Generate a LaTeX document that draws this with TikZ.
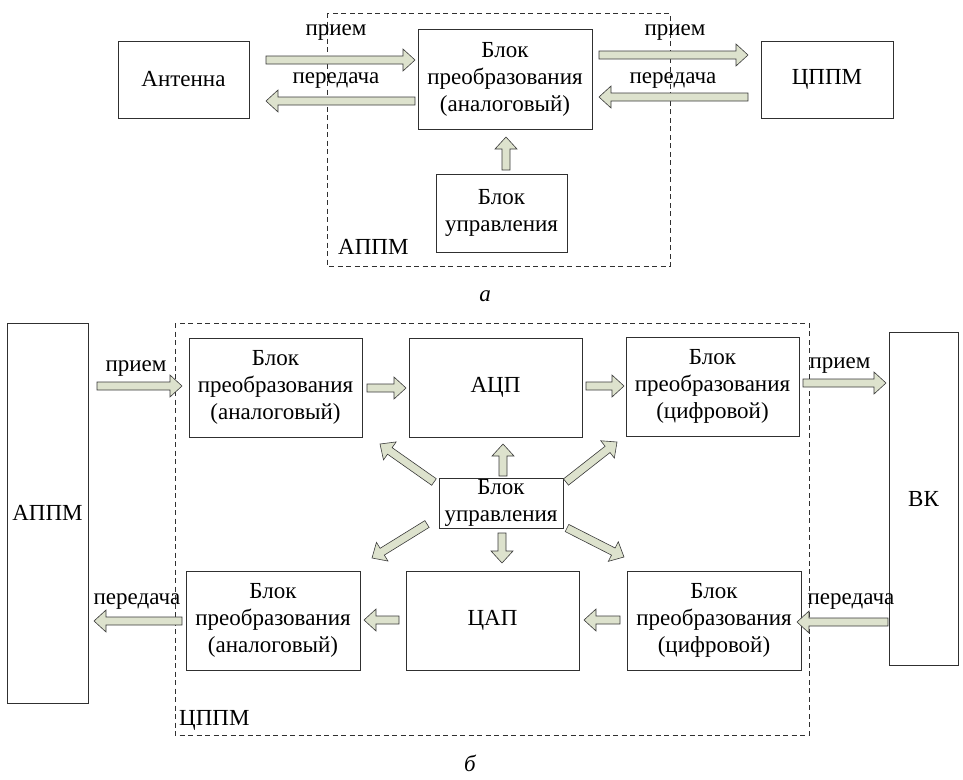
\documentclass[tikz,border=0pt]{standalone}
\usepackage{fontspec}
\setmainfont{Liberation Serif}
\usetikzlibrary{calc}
\definecolor{arrowfill}{HTML}{DDE2CD}
\definecolor{arrowline}{HTML}{3A3A3A}
\definecolor{boxline}{HTML}{303030}
\begin{document}
\begin{tikzpicture}[x=1pt,y=-1pt,
  txt/.style={font=\fontsize{23}{27}\selectfont},
  box/.style={txt, draw=boxline, line width=0.7pt, align=center, inner sep=0pt},
  lbl/.style={txt, inner sep=0pt},
  group/.style={draw=boxline, line width=0.7pt, dash pattern=on 5pt off 3.5pt},
  barrow/.style={draw=arrowline, fill=arrowfill, line width=0.6pt, line join=miter,
    to path={let \p1=(\tikztostart), \p2=(\tikztotarget),
      \n1={atan2(\y2-\y1,\x2-\x1)}, \n2={veclen(\x2-\x1,\y2-\y1)} in
      {[shift={(\p1)}, rotate=\n1]
        (0,-4) -- ({\n2-12},-4) -- ({\n2-12},-11) -- (\n2,0)
        -- ({\n2-12},11) -- ({\n2-12},4) -- (0,4) -- cycle}}}]

\useasboundingbox (0,0) rectangle (963,779);

% ---------------- (a) analog module ----------------
\draw[group] (327,13) rectangle (670,266);
\node[lbl, anchor=west] (appmlabel) at (338,247) {АППМ};

\node[box, minimum width=131, minimum height=77] (ant) at (183.5,79.5) {Антенна};
\node[box, minimum width=174, minimum height=100] (conva) at (505,79) {Блок\\преобразования\\(аналоговый)};
\node[box, minimum width=131, minimum height=78] (ctrla) at (501.5,213) {Блок\\управления};
\node[box, minimum width=132, minimum height=77] (cppma) at (827,79.5) {ЦППМ};

\coordinate (t1s) at (266,60);  \coordinate (t1e) at (415,60);
\coordinate (t2s) at (415,101); \coordinate (t2e) at (266,101);
\coordinate (t3s) at (599,55);  \coordinate (t3e) at (748,55);
\coordinate (t4s) at (748,97);  \coordinate (t4e) at (599,97);
\coordinate (t5s) at (506,170); \coordinate (t5e) at (506,137);

\draw[barrow] (t1s) to (t1e);
\draw[barrow] (t2s) to (t2e);
\draw[barrow] (t3s) to (t3e);
\draw[barrow] (t4s) to (t4e);
\draw[barrow] (t5s) to (t5e);

\node[lbl] (rxa1) at (336,33) {прием};
\node[lbl] (txa1) at (336,81) {передача};
\node[lbl] (rxa2) at (675,33) {прием};
\node[lbl] (txa2) at (673,81) {передача};

\node[lbl, font=\fontsize{23}{27}\selectfont\itshape] (capa) at (485,296) {а};

% ---------------- (b) digital module ----------------
\draw[group] (175,323) rectangle (809,735);
\node[lbl, anchor=west] (cppmlabel) at (179,720) {ЦППМ};

\node[box, minimum width=81, minimum height=380] (appmb) at (47.5,513) {АППМ};
\node[box, minimum width=69, minimum height=333] (vk) at (923.5,498.5) {ВК};

\node[box, minimum width=173, minimum height=99] (c1) at (275.5,387.5) {Блок\\преобразования\\(аналоговый)};
\node[box, minimum width=173, minimum height=99] (adc) at (495.5,387.5) {АЦП};
\node[box, minimum width=173, minimum height=99] (c2) at (712.5,386.5) {Блок\\преобразования\\(цифровой)};
\node[box, minimum width=124, minimum height=50] (ctrlb) at (501,503) {Блок\\управления};
\node[box, minimum width=174, minimum height=99] (c3) at (273,620.5) {Блок\\преобразования\\(аналоговый)};
\node[box, minimum width=173, minimum height=99] (dac) at (492.5,620.5) {ЦАП};
\node[box, minimum width=174, minimum height=99] (c4) at (714,620.5) {Блок\\преобразования\\(цифровой)};

\coordinate (b1s) at (97,386);   \coordinate (b1e) at (182,386);
\coordinate (b2s) at (367,388);  \coordinate (b2e) at (406,388);
\coordinate (b3s) at (586,386);  \coordinate (b3e) at (624,386);
\coordinate (b4s) at (803,383);  \coordinate (b4e) at (886,383);
\coordinate (b5s) at (503,476);  \coordinate (b5e) at (503,444);
\coordinate (b6s) at (566,482);  \coordinate (b6e) at (617,442);
\coordinate (b7s) at (434,482);  \coordinate (b7e) at (380,444);
\coordinate (b8s) at (427,524);  \coordinate (b8e) at (372,558);
\coordinate (b9s) at (502,533);  \coordinate (b9e) at (502,563);
\coordinate (b10s) at (567,528); \coordinate (b10e) at (624,557);
\coordinate (b11s) at (399,620); \coordinate (b11e) at (364,620);
\coordinate (b12s) at (620,620); \coordinate (b12e) at (584,620);
\coordinate (b13s) at (888,622); \coordinate (b13e) at (797,622);
\coordinate (b14s) at (182,621); \coordinate (b14e) at (94,621);

\foreach \k in {1,...,14} {\draw[barrow] (b\k s) to (b\k e);}

\node[lbl] (rxb1) at (136,369) {прием};
\node[lbl] (rxb2) at (840,366) {прием};
\node[lbl] (txb1) at (137,602) {передача};
\node[lbl] (txb2) at (851,602) {передача};

\node[lbl, font=\fontsize{23}{27}\selectfont\itshape] (capb) at (470,763) {б};
\end{tikzpicture}
\end{document}
